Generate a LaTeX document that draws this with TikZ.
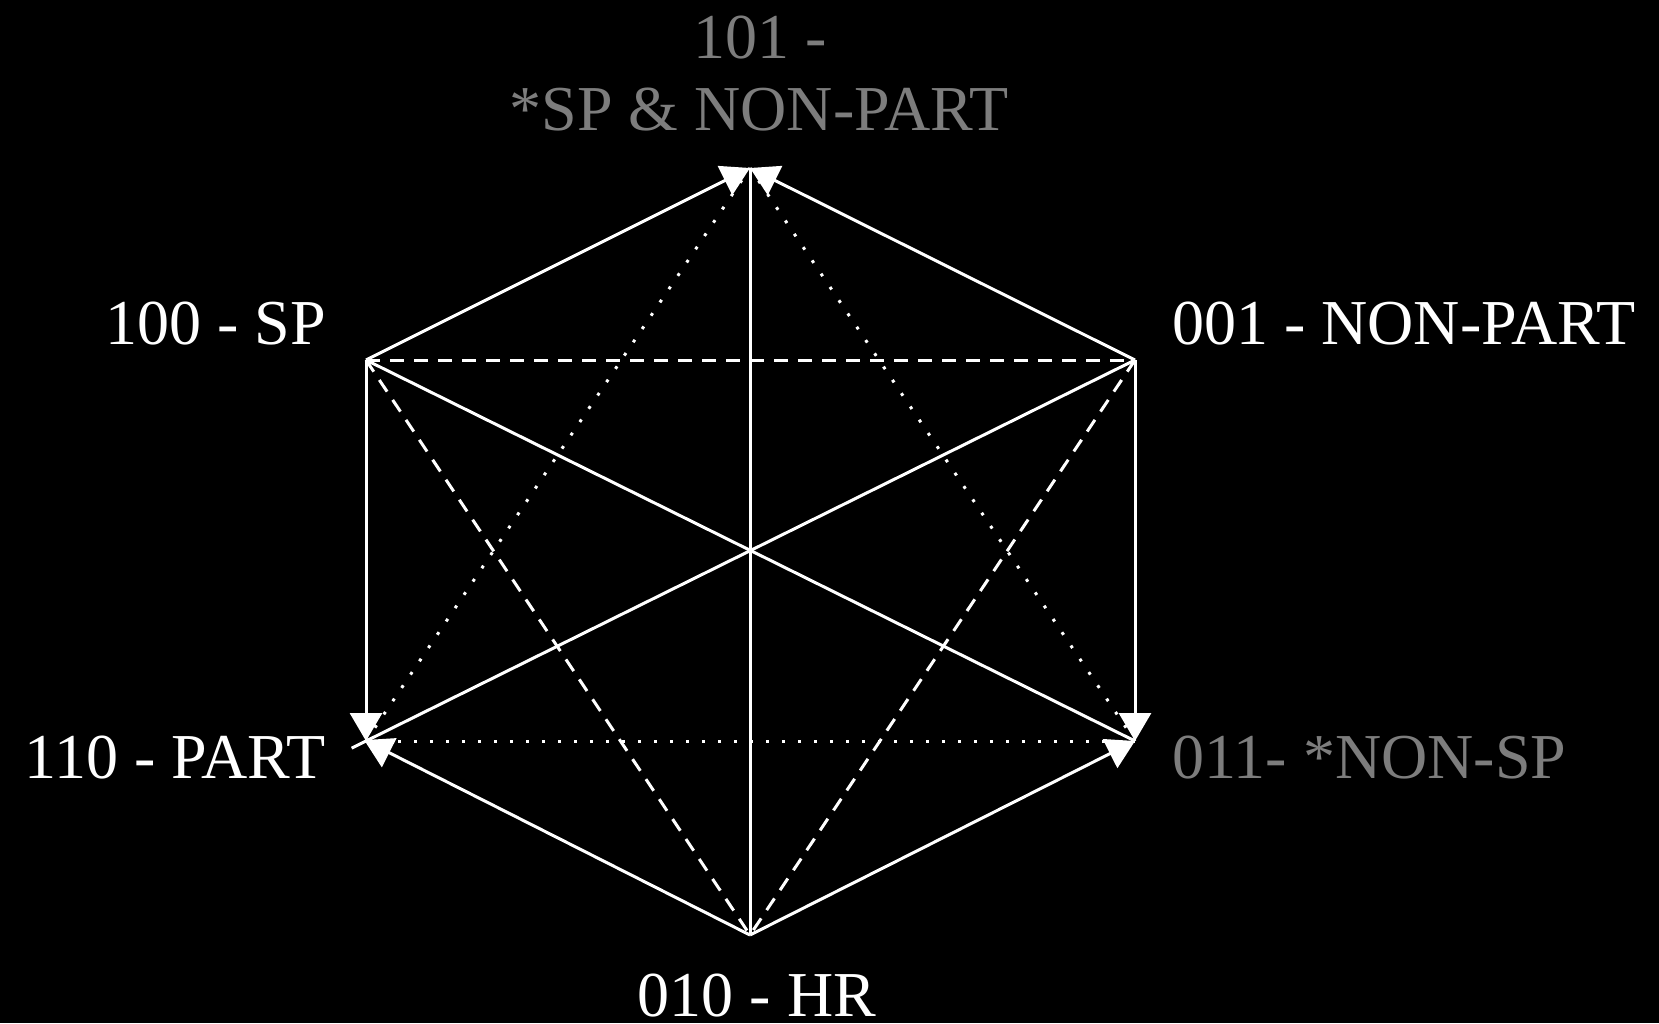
\documentclass[tikz,border=0pt]{standalone}
\usepackage{fontspec}
\setmainfont{Liberation Serif}
\usetikzlibrary{arrows.meta}
\definecolor{lbl}{RGB}{255,255,255}
\definecolor{lblgray}{RGB}{125,125,125}
\begin{document}
\begin{tikzpicture}[x=1pt,y=-1pt,
  edge/.style={draw=white,line width=3pt},
  dashedge/.style={edge,dash pattern=on 14pt off 10pt},
  dotedge/.style={edge,dash pattern=on 3pt off 13pt},
  arrowedge/.style={edge,-{Triangle[length=28pt,width=32pt]}},
  label/.style={inner sep=0pt,font=\fontsize{64}{72}\selectfont,text=lbl},
  graylabel/.style={label,text=lblgray}]
\fill[black] (0,0) rectangle (1659,1023);
\useasboundingbox (0,0) rectangle (1659,1023);
\coordinate (T) at (750,168);
\coordinate (UL) at (366,360);
\coordinate (UR) at (1135,360);
\coordinate (LL) at (366,741);
\coordinate (LR) at (1135,741);
\coordinate (B) at (750,935);
% dotted triangle
\draw[dotedge] (LL) -- (LR);
\draw[dotedge] (LL) -- (T);
\draw[dotedge] (LR) -- (T);
% dashed triangle
\draw[dashedge] (UL) -- (UR);
\draw[dashedge] (UL) -- (B);
\draw[dashedge] (UR) -- (B);
% solid diagonals
\draw[edge] (T) -- (B);
\draw[edge] (UL) -- (LR);
\draw[edge,shorten >=-16pt] (UR) -- (LL);
% arrowed hexagon edges
\draw[arrowedge] (UL) -- (T);
\draw[arrowedge] (UR) -- (T);
\draw[arrowedge] (UL) -- (LL);
\draw[arrowedge] (UR) -- (LR);
\draw[arrowedge,shorten >=-2pt] (B) -- (LL);
\draw[arrowedge] (B) -- (LR);
% labels
\node[graylabel,anchor=base] (t1) at (760,58) {101 -};
\node[graylabel,anchor=base] (t2) at (759,130) {*SP \& NON-PART};
\node[label,anchor=base east] (l100) at (326,344) {100 - SP};
\node[label,anchor=base west] (l001) at (1172,344) {001 - NON-PART};
\node[label,anchor=base east] (l110) at (326,778) {110 - PART};
\node[graylabel,anchor=base west] (l011) at (1172,778) {011- *NON-SP};
\node[label,anchor=base] (l010) at (757,1016) {010 - HR};
\end{tikzpicture}
\end{document}
